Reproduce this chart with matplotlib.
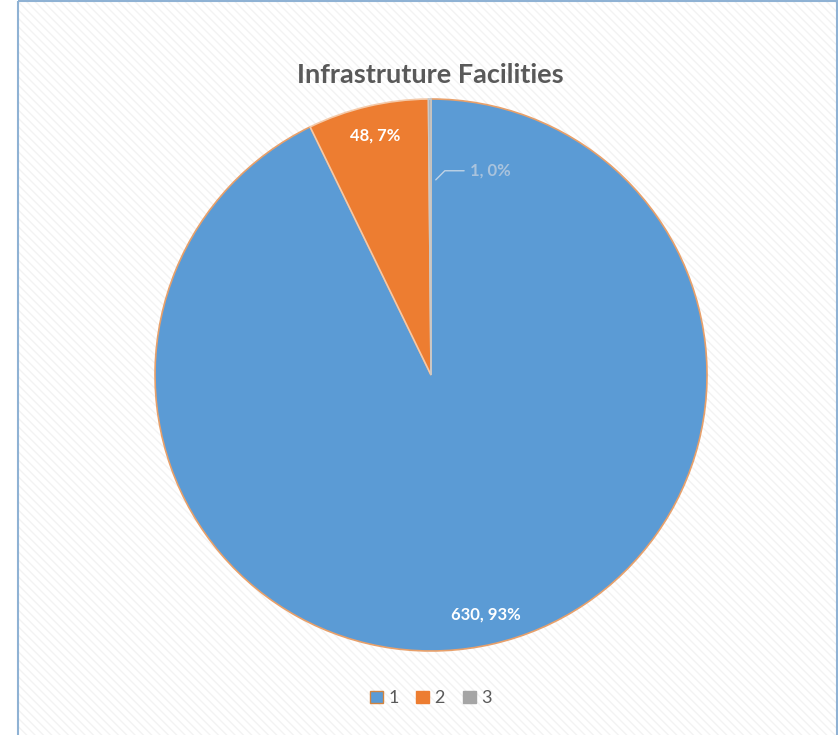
import matplotlib.pyplot as plt
from matplotlib.patches import Rectangle
import numpy as np

# categories and counts
categories = ['1', '2', '3']
counts = [630, 48, 1]
colors = ['#5B9BD5', '#ED7D31', '#A5A5A5']
edges = ['#E8A06A', '#F4C9A8', '#C8C8C8']

plt.rcParams['font.family'] = ['Lato', 'DejaVu Sans']

fig = plt.figure(figsize=(8.38, 7.35), dpi=100)

# chart area with a faint diagonal texture and a thin blue frame
bg = fig.add_axes([0, 0, 1, 1])
bg.set_xlim(0, 838)
bg.set_ylim(735, 0)
bg.axis('off')
bg.add_patch(Rectangle((18, 1), 819, 740, facecolor='white', edgecolor='#f3f3f3',
                       hatch='\\\\\\\\', linewidth=0))
bg.add_patch(Rectangle((18, 1), 819, 740, facecolor='none', edgecolor='#8FB2D4',
                       linewidth=1.5))

ax = fig.add_axes([0.185, 0.1143, 0.6587, 0.751])
wedges, _ = ax.pie(counts, colors=colors, startangle=90, counterclock=False,
                   radius=1, wedgeprops=dict(linewidth=1.2))
for w, ec in zip(wedges, edges):
    w.set_edgecolor(ec)
ax.set_xlim(-1, 1)
ax.set_ylim(-1, 1)
ax.set_aspect('equal')
ax.axis('off')

total = sum(counts)
labels = ['%d, %d%%' % (c, round(100 * c / total)) for c in counts]

# labels inside the two large slices
for w, lab in zip(wedges[:2], labels[:2]):
    ang = np.deg2rad((w.theta1 + w.theta2) / 2)
    ax.text(0.89 * np.cos(ang), 0.89 * np.sin(ang), lab, ha='center', va='center',
            color='white', fontsize=12, fontweight='bold')

# tiny slice gets a leader line
ax.annotate(labels[2], xy=(0.01, 0.7), xytext=(0.14, 0.74),
            ha='left', va='center', color='#A9C3DD', fontsize=12, fontweight='bold',
            arrowprops=dict(arrowstyle='-', color='#BFD3E6', lw=1,
                            connectionstyle='angle,angleA=0,angleB=45,rad=0'))

fig.text(0.514, 0.898, 'Infrastruture Facilities', ha='center', va='center',
         fontsize=19.5, fontweight='bold', color='#595959')

handles = [Rectangle((0, 0), 1, 1, facecolor=c, edgecolor=e, linewidth=1)
           for c, e in zip(colors, ['#D2843F', '#ED7D31', '#A5A5A5'])]
fig.legend(handles, categories, loc='center', bbox_to_anchor=(0.514, 0.05), ncol=3,
           frameon=False, fontsize=13, labelcolor='#595959', handlelength=0.7,
           handleheight=0.7, handletextpad=0.3, columnspacing=1.0)

fig.savefig('out.png', dpi=100)
